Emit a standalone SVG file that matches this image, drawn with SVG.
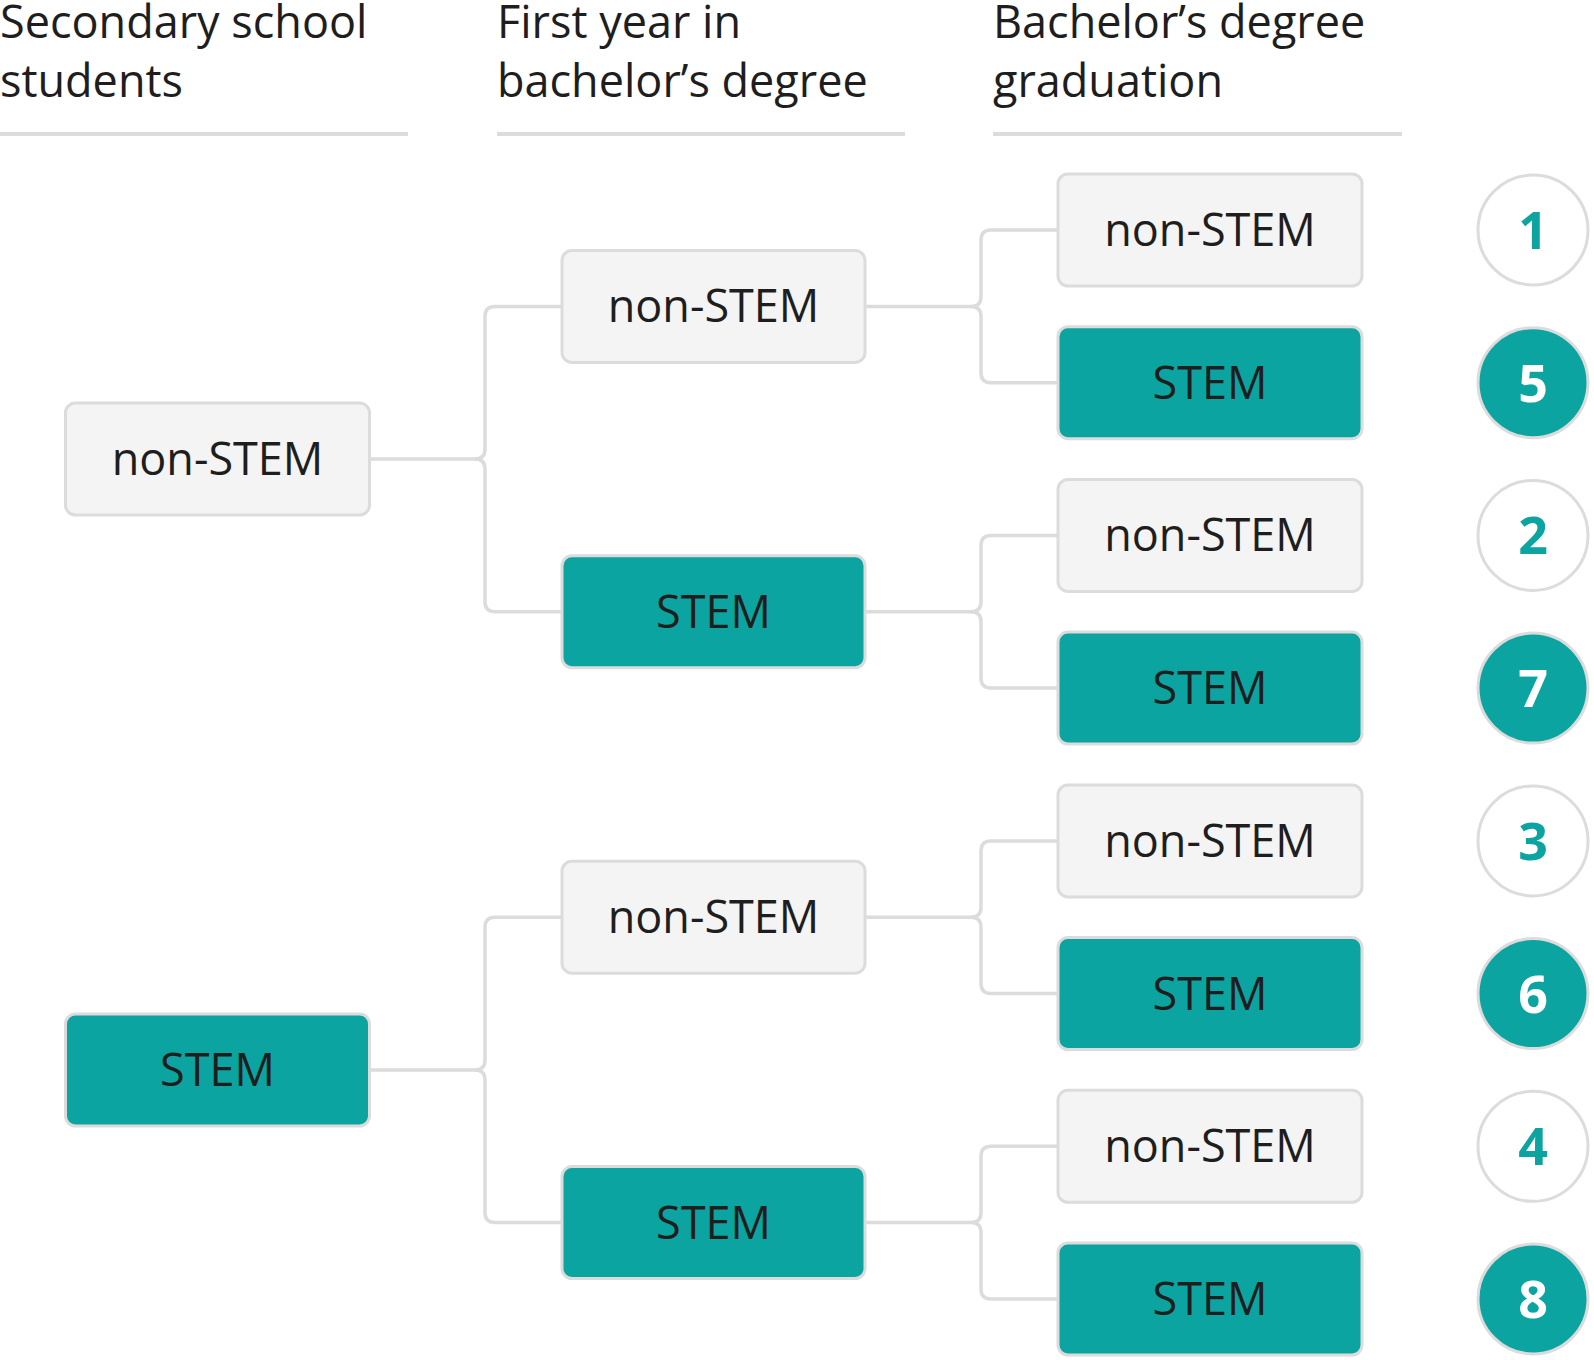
<svg xmlns="http://www.w3.org/2000/svg" width="1594" height="1360" viewBox="0 0 1594 1360">
<style>
.hdr{font-family:"Open Sans","Noto Sans","Liberation Sans",sans-serif;font-size:45px;fill:#1e1e1e}
.rule{stroke:#dcdcdc;stroke-width:4;fill:none}
.light rect{fill:#f4f4f4;stroke:#dcdcdc;stroke-width:3}
.dark rect{fill:#0ca4a0;stroke:#dcdcdc;stroke-width:3}
.lbl{font-family:"Open Sans","Noto Sans","Liberation Sans",sans-serif;font-size:45px;fill:#1e1e1e;text-anchor:middle}
.conn path{fill:none;stroke:#dcdcdc;stroke-width:3.5}
.cl circle{fill:#ffffff;stroke:#dcdcdc;stroke-width:3}
.cd circle{fill:#0ca4a0;stroke:#dcdcdc;stroke-width:3}
.num{font-family:"Open Sans","Noto Sans","Liberation Sans",sans-serif;font-size:52px;font-weight:bold;text-anchor:middle}
.cl .num{fill:#0ca4a0}
.cd .num{fill:#ffffff}
</style>
<g id="headers">
<text class="hdr" x="0" y="38">Secondary school</text>
<text class="hdr" x="0" y="97">students</text>
<line class="rule" x1="0" y1="134" x2="408" y2="134"/>
<text class="hdr" x="497" y="38">First year in</text>
<text class="hdr" x="497" y="97">bachelor’s degree</text>
<line class="rule" x1="497" y1="134" x2="905" y2="134"/>
<text class="hdr" x="993" y="38">Bachelor’s degree</text>
<text class="hdr" x="993" y="97">graduation</text>
<line class="rule" x1="993" y1="134" x2="1402" y2="134"/>
</g>
<g id="connectors" class="conn">
<path d="M369,459.1 H475 Q485,459.1 485,449.1 V316.4 Q485,306.4 495,306.4 H563"/>
<path d="M475,459.1 Q485,459.1 485,469.1 V601.8 Q485,611.8 495,611.8 H563"/>
<path d="M369,1069.9 H475 Q485,1069.9 485,1059.9 V927.2 Q485,917.2 495,917.2 H563"/>
<path d="M475,1069.9 Q485,1069.9 485,1079.9 V1212.6 Q485,1222.6 495,1222.6 H563"/>
<path d="M864,306.4 H971 Q981,306.4 981,296.4 V240 Q981,230 991,230 H1059"/>
<path d="M971,306.4 Q981,306.4 981,316.4 V372.7 Q981,382.7 991,382.7 H1059"/>
<path d="M864,611.8 H971 Q981,611.8 981,601.8 V545.4 Q981,535.4 991,535.4 H1059"/>
<path d="M971,611.8 Q981,611.8 981,621.8 V678.1 Q981,688.1 991,688.1 H1059"/>
<path d="M864,917.2 H971 Q981,917.2 981,907.2 V850.9 Q981,840.9 991,840.9 H1059"/>
<path d="M971,917.2 Q981,917.2 981,927.2 V983.6 Q981,993.6 991,993.6 H1059"/>
<path d="M864,1222.6 H971 Q981,1222.6 981,1212.6 V1156.3 Q981,1146.3 991,1146.3 H1059"/>
<path d="M971,1222.6 Q981,1222.6 981,1232.6 V1289 Q981,1299 991,1299 H1059"/>
</g>
<g id="sec-nonstem" class="light"><rect x="65.5" y="403" width="304" height="112" rx="10"/><text class="lbl" x="217.5" y="475">non-STEM</text></g>
<g id="sec-stem" class="dark"><rect x="65.5" y="1014" width="304" height="112" rx="10"/><text class="lbl" x="217.5" y="1086">STEM</text></g>
<g id="fy-1" class="light"><rect x="562" y="250.4" width="303" height="112" rx="10"/><text class="lbl" x="713.5" y="322.4">non-STEM</text></g>
<g id="fy-2" class="dark"><rect x="562" y="555.8" width="303" height="112" rx="10"/><text class="lbl" x="713.5" y="627.8">STEM</text></g>
<g id="fy-3" class="light"><rect x="562" y="861.2" width="303" height="112" rx="10"/><text class="lbl" x="713.5" y="933.2">non-STEM</text></g>
<g id="fy-4" class="dark"><rect x="562" y="1166.6" width="303" height="112" rx="10"/><text class="lbl" x="713.5" y="1238.6">STEM</text></g>
<g id="gr-1" class="light"><rect x="1058" y="174" width="304" height="112" rx="10"/><text class="lbl" x="1210" y="246">non-STEM</text></g>
<g id="gr-2" class="dark"><rect x="1058" y="326.7" width="304" height="112" rx="10"/><text class="lbl" x="1210" y="398.7">STEM</text></g>
<g id="gr-3" class="light"><rect x="1058" y="479.4" width="304" height="112" rx="10"/><text class="lbl" x="1210" y="551.4">non-STEM</text></g>
<g id="gr-4" class="dark"><rect x="1058" y="632.1" width="304" height="112" rx="10"/><text class="lbl" x="1210" y="704.1">STEM</text></g>
<g id="gr-5" class="light"><rect x="1058" y="784.9" width="304" height="112" rx="10"/><text class="lbl" x="1210" y="856.9">non-STEM</text></g>
<g id="gr-6" class="dark"><rect x="1058" y="937.6" width="304" height="112" rx="10"/><text class="lbl" x="1210" y="1009.6">STEM</text></g>
<g id="gr-7" class="light"><rect x="1058" y="1090.3" width="304" height="112" rx="10"/><text class="lbl" x="1210" y="1162.3">non-STEM</text></g>
<g id="gr-8" class="dark"><rect x="1058" y="1243" width="304" height="112" rx="10"/><text class="lbl" x="1210" y="1315">STEM</text></g>
<g id="n1" class="cl"><circle cx="1533" cy="230" r="55"/><text class="num" x="1533" y="249">1</text></g>
<g id="n5" class="cd"><circle cx="1533" cy="382.7" r="55"/><text class="num" x="1533" y="401.7">5</text></g>
<g id="n2" class="cl"><circle cx="1533" cy="535.4" r="55"/><text class="num" x="1533" y="554.4">2</text></g>
<g id="n7" class="cd"><circle cx="1533" cy="688.1" r="55"/><text class="num" x="1533" y="707.1">7</text></g>
<g id="n3" class="cl"><circle cx="1533" cy="840.9" r="55"/><text class="num" x="1533" y="859.9">3</text></g>
<g id="n6" class="cd"><circle cx="1533" cy="993.6" r="55"/><text class="num" x="1533" y="1012.6">6</text></g>
<g id="n4" class="cl"><circle cx="1533" cy="1146.3" r="55"/><text class="num" x="1533" y="1165.3">4</text></g>
<g id="n8" class="cd"><circle cx="1533" cy="1299" r="55"/><text class="num" x="1533" y="1318">8</text></g>
</svg>
